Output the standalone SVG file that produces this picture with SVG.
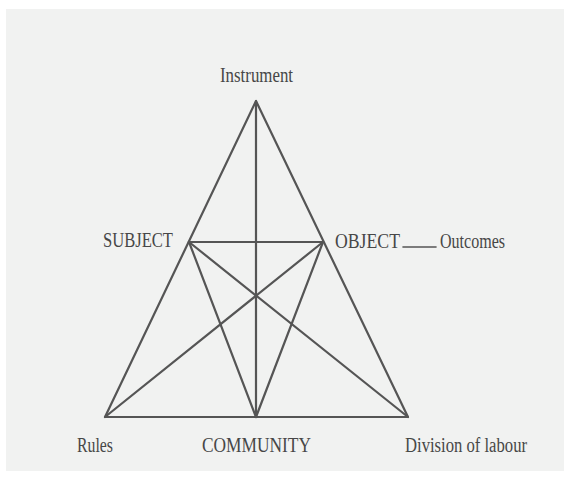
<svg xmlns="http://www.w3.org/2000/svg" width="564" height="477" viewBox="0 0 564 477">
<style>
.ln{stroke:#555555;stroke-width:2.2;fill:none;stroke-linecap:round;stroke-linejoin:round}
.t{font-family:"Liberation Serif","Times New Roman",serif;fill:#474747;font-size:20px}
.c{font-size:21px}
</style>
<rect width="564" height="477" fill="#ffffff"/>
<rect x="6" y="9" width="558" height="462" fill="#f1f2f1"/>
<g id="connectors">
<polygon class="ln" points="256,101 105,417 408,417"/>
<line class="ln" x1="189" y1="242" x2="323" y2="242"/>
<line class="ln" x1="256" y1="101" x2="256" y2="417"/>
<line class="ln" x1="189" y1="242" x2="256" y2="417"/>
<line class="ln" x1="323" y1="242" x2="256" y2="417"/>
<line class="ln" x1="189" y1="242" x2="408" y2="417"/>
<line class="ln" x1="323" y1="242" x2="105" y2="417"/>
<line class="ln" x1="403" y1="247" x2="436" y2="247" style="stroke-width:1.6"/>
</g>
<g id="instrument"><text class="t" x="220" y="82" textLength="73" lengthAdjust="spacingAndGlyphs">Instrument</text></g>
<g id="subject"><text class="t c" x="103" y="247" textLength="70" lengthAdjust="spacingAndGlyphs">SUBJECT</text></g>
<g id="object"><text class="t c" x="335" y="248" textLength="65" lengthAdjust="spacingAndGlyphs">OBJECT</text></g>
<g id="outcomes"><text class="t" x="440" y="248" textLength="65" lengthAdjust="spacingAndGlyphs">Outcomes</text></g>
<g id="rules"><text class="t" x="77" y="452" textLength="36" lengthAdjust="spacingAndGlyphs">Rules</text></g>
<g id="community"><text class="t c" x="202" y="452" textLength="109" lengthAdjust="spacingAndGlyphs">COMMUNITY</text></g>
<g id="division"><text class="t" x="405" y="452" textLength="122" lengthAdjust="spacingAndGlyphs">Division of labour</text></g>
</svg>
